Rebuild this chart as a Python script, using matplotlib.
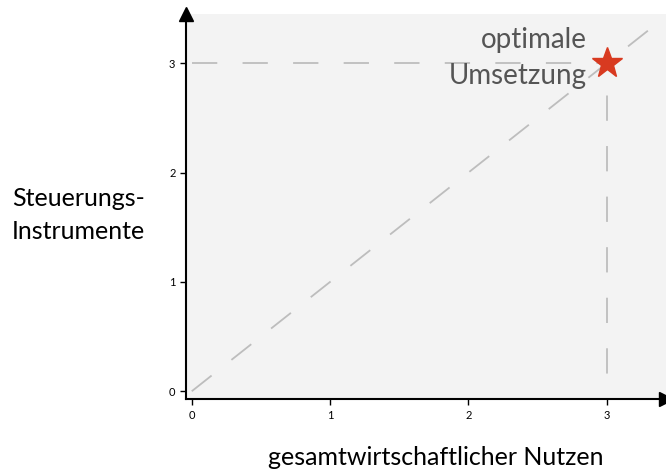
import matplotlib.pyplot as plt

plt.rcParams['font.family'] = ['Lato', 'DejaVu Sans']

GREY = "#bdbdbd"
RED = "#d83a20"
TEXT = "#555555"

# data
diag_x = [0, 3.6]
diag_y = [0, 3.6]
opt_x = 3
opt_y = 3
ticks = [0, 1, 2, 3]
xlab = "gesamtwirtschaftlicher Nutzen"
ylab = "Steuerungs-\nInstrumente"
opt_label = "optimale\nUmsetzung"

fig = plt.figure(figsize=(6.66, 4.73), dpi=100)
ax = fig.add_axes([0.279, 0.156, 0.721, 0.814])
ax.set_facecolor("#f3f3f3")
ax.set_xlim(-0.043, 3.43)
ax.set_ylim(-0.073, 3.45)

dash = (0, (14, 14))
ax.plot(diag_x, diag_y, color=GREY, lw=1.3, ls=dash)
ax.plot([0, opt_x], [opt_y, opt_y], color=GREY, lw=1.3, ls=dash)
ax.plot([opt_x, opt_x], [opt_y, 0], color=GREY, lw=1.3, ls=(10, (14, 14)))
ax.plot(opt_x, opt_y, marker="*", ms=23, color=RED, mec=RED, zorder=5)
ax.text(opt_x - 0.14, opt_y + 0.05, opt_label, ha="right", va="center",
        fontsize=20, color=TEXT, linespacing=1.45)

for s in ("top", "right"):
    ax.spines[s].set_visible(False)
for s in ("left", "bottom"):
    ax.spines[s].set_linewidth(1.5)
ax.plot(1, 0, ">k", ms=10, transform=ax.transAxes, clip_on=False)
ax.plot(0, 1, "^k", ms=10, transform=ax.transAxes, clip_on=False)

ax.set_xticks(ticks)
ax.set_yticks(ticks)
ax.tick_params(labelsize=8, length=4, width=1)

fig.text(0.655, 0.032, xlab, ha="center", va="center", fontsize=18)
fig.text(0.018, 0.545, ylab, ha="left", va="center", fontsize=18,
         linespacing=1.55)

fig.savefig("out.png", dpi=100)
